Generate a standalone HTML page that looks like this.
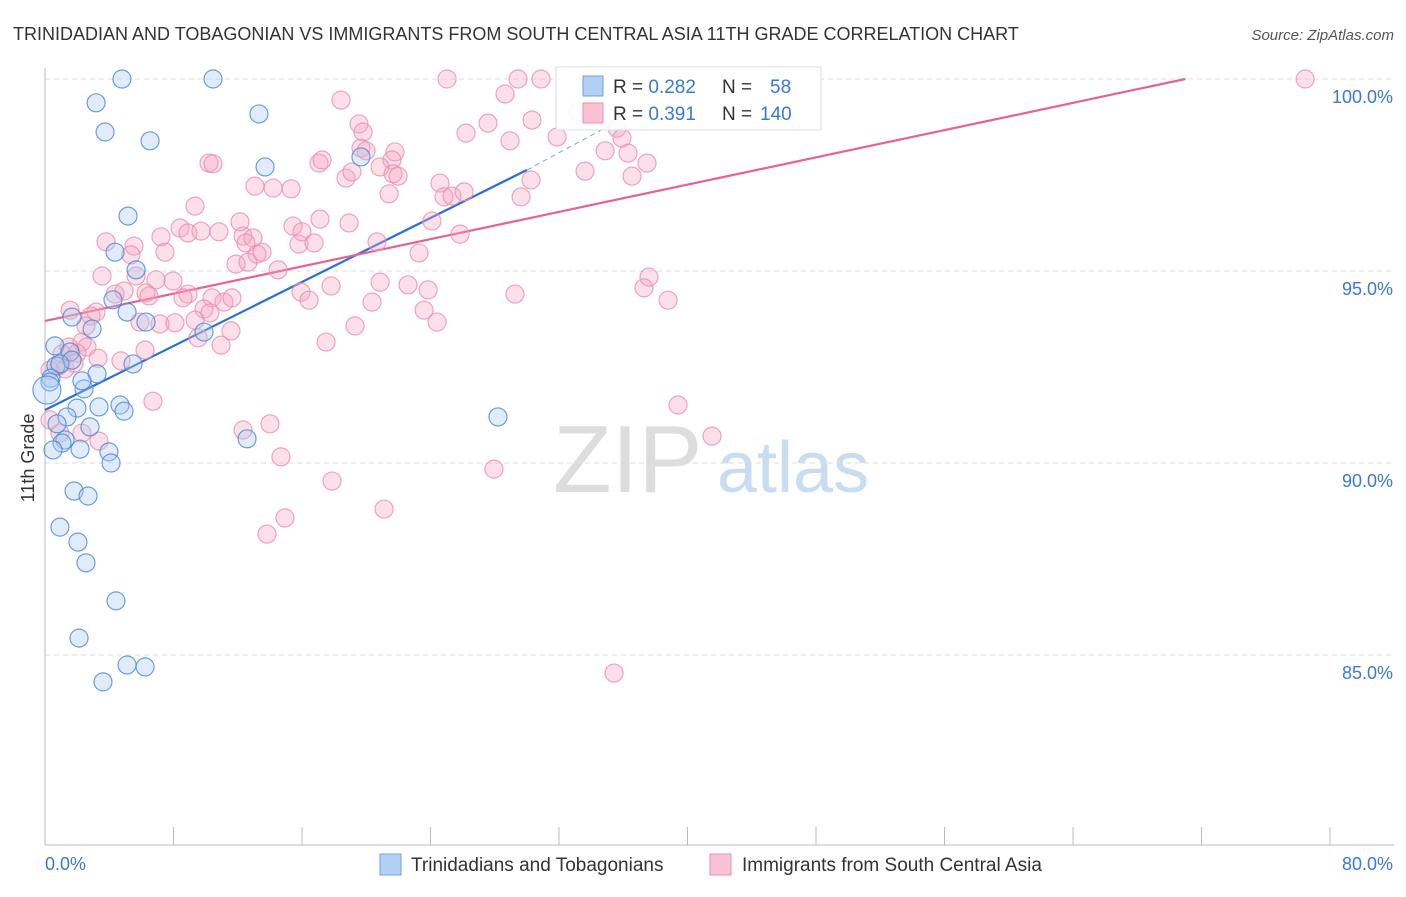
<!DOCTYPE html>
<html><head><meta charset="utf-8"><style>
body{margin:0;background:#fff;font-family:"Liberation Sans",sans-serif;}
svg text{font-family:"Liberation Sans",sans-serif;}
</style></head><body>
<svg id="chart" width="1406" height="892">
<text x="13" y="40" font-size="18" fill="#333">TRINIDADIAN AND TOBAGONIAN VS IMMIGRANTS FROM SOUTH CENTRAL ASIA 11TH GRADE CORRELATION CHART</text>
<text x="1394" y="40" font-size="15" fill="#555" font-style="italic" text-anchor="end">Source: ZipAtlas.com</text>
<text transform="translate(34,458) rotate(-90)" font-size="18" fill="#333" text-anchor="middle">11th Grade</text>
<g><text x="553" y="492" font-size="96" fill="#ddd" font-family="Liberation Serif">ZIP</text><text x="717" y="492" font-size="72" fill="#c8dcf2">atlas</text></g>
<g id="grid"></g><g id="axes"></g><g id="lines"></g><g id="pts"></g>
<g>
<rect x="556" y="67" width="265" height="63" fill="#fff" fill-opacity="0.9" stroke="#ddd"/>
<rect x="583" y="76" width="20" height="20" fill="#b3cff3" stroke="#6fa0e0"/>
<rect x="583" y="103" width="20" height="20" fill="#f9c2d2" stroke="#ec8fab"/>
<text x="613" y="93" font-size="19" fill="#333">R = <tspan fill="#3a78d4">0.282</tspan><tspan x="722">N =</tspan><tspan x="770" fill="#3a78d4">58</tspan></text>
<text x="613" y="120" font-size="19" fill="#333">R = <tspan fill="#3a78d4">0.391</tspan><tspan x="722">N =</tspan><tspan x="760" fill="#3a78d4">140</tspan></text>
</g>
<g>
<rect x="380" y="854" width="21" height="21" fill="#b3cff3" stroke="#6fa0e0"/>
<text x="411" y="871" font-size="19" fill="#333">Trinidadians and Tobagonians</text>
<rect x="710" y="854" width="21" height="21" fill="#f9c2d2" stroke="#ec8fab"/>
<text x="742" y="871" font-size="19" fill="#333">Immigrants from South Central Asia</text>
</g>
</svg>
<script>
const xTickLabels=["0.0%","80.0%"];
const yTicks=[100,95,90,85];
const yTickLabels=["100.0%","95.0%","90.0%","85.0%"];
const blueX=[4.79,10.46,3.18,3.74,13.32,6.54,13.70,19.67,5.17,4.36,5.67,4.23,5.11,1.68,6.29,2.93,9.90,0.62,1.56,1.68,0.68,0.93,5.48,0.37,0.31,3.24,2.43,2.30,1.99,3.36,1.37,4.67,4.92,0.75,2.80,1.25,1.06,2.18,0.50,3.98,4.11,12.58,28.2,1.81,2.68,0.93,2.05,2.55,4.42,2.12,5.11,6.23,3.61,0.12];
const blueY=[100,100,99.38,98.62,99.09,98.39,97.71,97.97,96.43,95.49,95.03,94.25,93.93,93.80,93.67,93.49,93.41,93.05,92.89,92.68,92.53,92.58,92.58,92.21,92.11,92.32,91.93,92.14,91.43,91.46,91.20,91.51,91.35,91.02,90.94,90.60,90.52,90.36,90.34,90.29,90.0,90.63,91.20,89.27,89.14,88.33,87.94,87.40,86.41,85.44,84.74,84.69,84.30,91.90];
const pinkX=[25.03,29.45,30.88,78.45,28.64,18.43,27.58,26.21,19.55,19.80,28.95,31.88,30.32,33.18,35.61,35.92,34.87,36.30,37.48,36.55,33.62,19.67,19.99,21.79,21.60,20.86,21.67,21.98,17.06,17.25,18.74,19.11,21.42,24.59,24.84,25.34,26.09,29.64,30.26,24.09,25.84,13.07,14.20,15.32,10.21,10.46,9.34,8.41,8.90,9.71,10.83,12.14,12.33,12.95,13.20,13.51,14.51,12.51,15.44,15.81,16.00,16.75,17.12,18.93,20.67,23.29,11.89,12.64,5.54,7.22,7.47,3.80,3.55,5.35,5.67,6.91,7.97,4.36,4.92,6.29,6.48,8.90,8.59,10.40,11.14,11.64,15.94,16.44,17.81,20.36,20.86,22.60,23.85,23.60,24.41,19.30,17.50,9.90,10.27,11.58,10.96,9.53,7.16,8.09,5.91,1.56,3.18,2.86,2.55,2.30,2.61,1.49,1.06,1.99,4.73,6.23,0.87,1.25,0.31,1.81,3.30,6.72,2.30,3.36,12.33,14.01,14.69,17.87,21.11,27.95,14.94,13.82,39.41,41.53,37.29,37.60,38.79,35.43,29.26,9.34,0.93,0.31];
const pinkY=[100,100,100,100,99.61,99.45,98.85,98.59,98.83,98.62,98.39,98.49,98.93,99.14,98.72,98.46,98.13,98.07,97.81,97.47,97.60,98.20,98.13,98.10,97.89,97.71,97.53,97.47,97.81,97.89,97.42,97.58,97.01,97.29,96.93,96.95,97.06,96.93,97.37,96.30,95.96,97.21,97.16,97.14,97.81,97.79,96.69,96.12,95.99,96.04,96.02,96.28,95.91,95.86,95.44,95.49,95.03,95.73,96.17,95.70,96.02,95.73,96.35,96.25,95.76,95.47,95.18,95.23,95.65,95.89,95.49,95.76,94.87,95.42,94.87,94.77,94.74,94.40,94.48,94.43,94.35,94.40,94.30,94.30,94.19,94.30,94.45,94.24,94.61,94.19,94.71,94.64,94.51,93.98,93.67,93.57,93.15,94.01,93.91,93.44,93.07,93.26,93.62,93.65,93.67,93.98,93.93,93.83,93.57,93.15,93.02,93.02,92.84,92.86,92.66,92.94,92.53,92.45,92.42,92.60,92.73,91.61,90.78,90.57,90.86,91.02,90.16,89.53,88.80,89.84,88.57,88.15,91.51,90.70,94.56,94.84,94.24,84.53,94.40,93.72,90.78,91.12];
const blueLineX=[0,30.0],blueLineY=[91.38,97.63];
const blueDashX=[30.0,35.2],blueDashY=[97.63,98.8];
const pinkLineX=[0,71.0],pinkLineY=[93.70,100];
const NS="http://www.w3.org/2000/svg";
const sx=v=>45+v*1285/80, sy=v=>79+(100-v)*38.4;
function mk(tag,attrs,parent){const e=document.createElementNS(NS,tag);for(const k in attrs)e.setAttribute(k,attrs[k]);document.getElementById(parent).appendChild(e);return e;}
yTicks.forEach((t,i)=>{
 const g=mk('line',{x1:45,x2:1394,y1:sy(t),y2:sy(t),stroke:'#ddd','stroke-dasharray':'5,4'},'grid');
 
 
 const l=mk('text',{x:1393,y:sy(t)+24,'font-size':18,fill:'#3a78d4','text-anchor':'end'},'axes');
 l.textContent=yTickLabels[i];
 
 
});
const ax=mk('line',{x1:45,x2:45,y1:68,y2:845,stroke:'#bbb'},'axes');


const bx=mk('line',{x1:45,x2:1394,y1:845,y2:845,stroke:'#bbb'},'axes');


for(let i=0;i<=10;i++){
 const t=mk('line',{x1:sx(i*8),x2:sx(i*8),y1:827,y2:845,stroke:'#bbb'},'axes');
 
 
}
const xl0=mk('text',{x:45,y:870,'font-size':18,fill:'#3a78d4'},'axes');xl0.textContent=xTickLabels[0];


const xl1=mk('text',{x:1393,y:870,'font-size':18,fill:'#3a78d4','text-anchor':'end'},'axes');xl1.textContent=xTickLabels[1];


function pts(X,Y,fill,stroke,name){X.forEach((x,i)=>{const c=mk('circle',{cx:sx(x),cy:sy(Y[i]),r:(name==='blue-point'&&i===X.length-1)?14:9,fill:fill,'fill-opacity':0.35,stroke:stroke,'stroke-opacity':0.8,'stroke-width':1.2},'pts');
 
 });}
pts(pinkX,pinkY,'#f4a6bf','#ec8fab','pink-point');
pts(blueX,blueY,'#a9c9f0','#4a86d8','blue-point');
const bl=mk('line',{x1:sx(blueLineX[0]),y1:sy(blueLineY[0]),x2:sx(blueLineX[1]),y2:sy(blueLineY[1]),stroke:'#2a6fd6','stroke-width':2.2},'lines');


const bd=mk('line',{x1:sx(blueDashX[0]),y1:sy(blueDashY[0]),x2:sx(blueDashX[1]),y2:sy(blueDashY[1]),stroke:'#7aa6e6','stroke-width':1,'stroke-dasharray':'5,4'},'lines');


const pl=mk('line',{x1:sx(pinkLineX[0]),y1:sy(pinkLineY[0]),x2:sx(pinkLineX[1]),y2:sy(pinkLineY[1]),stroke:'#e8628f','stroke-width':2.2},'lines');


</script>
</body></html>
